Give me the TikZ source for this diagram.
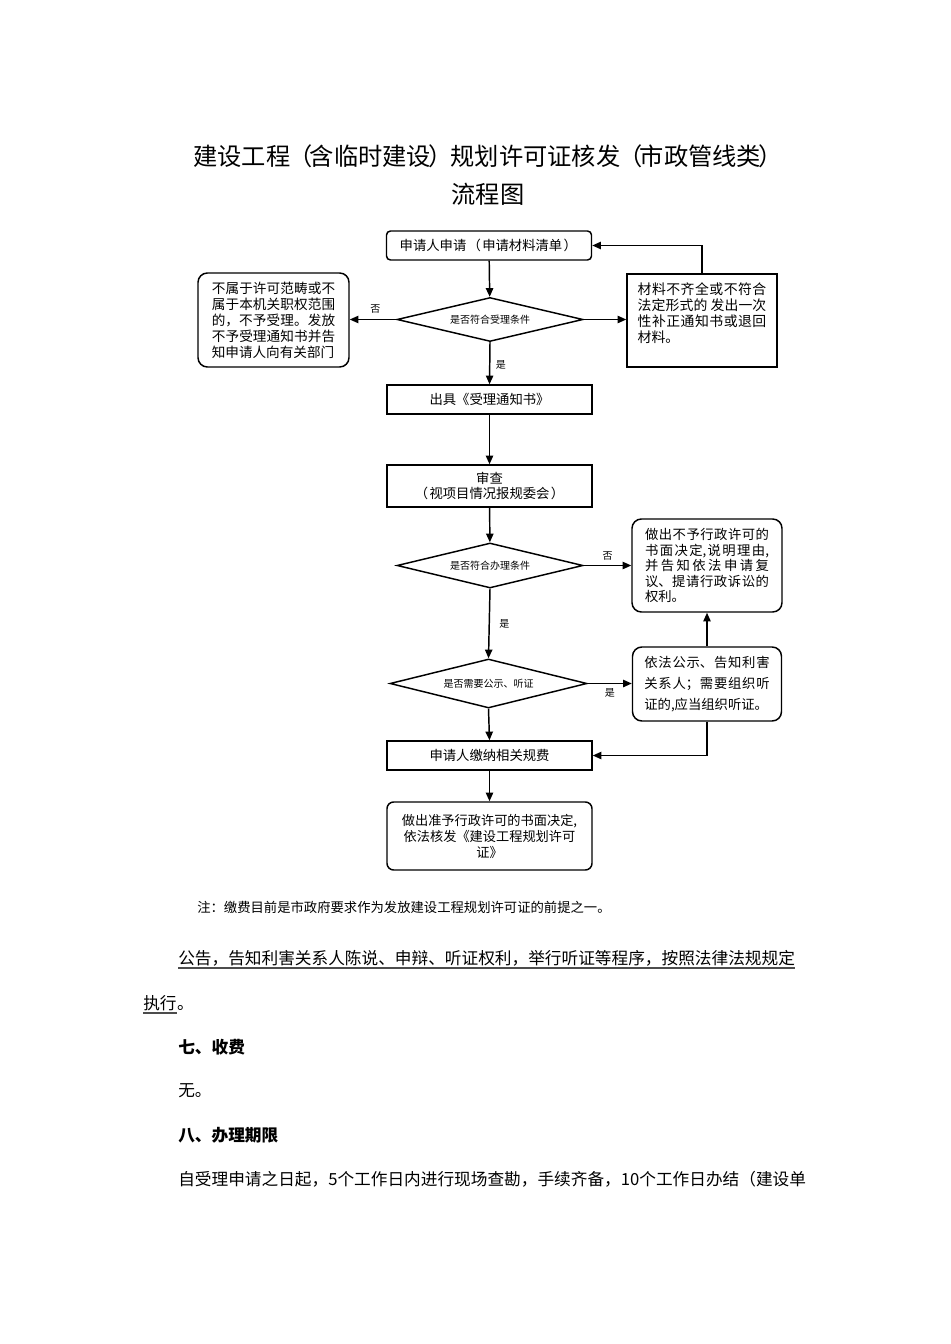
\documentclass[tikz,border=0pt]{standalone}
\usepackage{fontspec}
\setmainfont{Noto Sans CJK SC}
\usetikzlibrary{shapes.geometric,arrows.meta}
\XeTeXlinebreaklocale "zh"
\XeTeXlinebreakskip=0pt plus 5pt
\newcommand\fsz[2]{\fontsize{#1}{#2}\selectfont}
\newcommand\parL[1][1.2em]{\makebox[#1]{（}}
\newcommand\parR[1][1.2em]{\makebox[#1]{）}}

\begin{document}
\begin{tikzpicture}[x=0.75pt,y=0.75pt,yscale=-1,xscale=1,
	box/.style={draw,line width=1.1pt,minimum width=153.75pt,minimum height=21.75pt,inner sep=2pt,align=center,font=\fsz{10pt}{11.5pt}},
	decide/.style={diamond,draw,line width=1.1pt,aspect=4.2,inner sep=0pt,font=\fsz{7.5pt}{9pt}},
	side/.style={draw,line width=1.1pt,inner sep=0pt,align=justify},
	link/.style={-{Triangle[length=6.5pt,width=5.5pt]},line width=1.1pt},
	yesno/.style={font=\fsz{7.5pt}{9pt},inner sep=1pt},
	para/.style={anchor=base west,inner sep=0pt,font=\fsz{12.5pt}{15pt}}]
	\useasboundingbox (0,0) rectangle (950,1344);
	\fill[white] (0,0) rectangle (950,1344);
	% title
	\node (title) at (487,166) [anchor=base,inner sep=0pt,font=\fsz{18.2pt}{23pt}] {建设工程\parL[0.8em]含临时建设\parR[0.8em]规划许可证核发\parL[0.8em]市政管线类\parR[0.8em]};
	\node (title2) at (488,204) [anchor=base,inner sep=0pt,font=\fsz{18.2pt}{23pt}] {流程图};
	% flow chart
	\node (apply) at (489,245.5) [box,rounded corners=3pt] {申请人申请\parL 申请材料清单\parR};
	\node (accept) at (490,319.5) [decide,minimum width=139.5pt,minimum height=33pt] {是否符合受理条件};
	\node (notinscope) at (273.5,320) [side,rounded corners=7pt,minimum width=113.25pt,minimum height=70.5pt,text width=92.5pt,font=\fsz{10.2pt}{12pt}] {不属于许可范畴或不\linebreak 属于本机关职权范围\linebreak 的，不予受理。发放\linebreak 不予受理通知书并告\linebreak 知申请人向有关部门};
	\node (supplement) at (702,320.5) [side,minimum width=112.5pt,minimum height=69.75pt,text width=96.5pt,font=\fsz{10.4pt}{12pt}] {材料不齐全或不符合\linebreak 法定形式的 发出一次\linebreak 性补正通知书或退回\linebreak 材料。\par\mbox{}};
	\node (notice) at (489.5,399.5) [box] {出具《受理通知书》};
	\node (review) at (489.5,486) [box,minimum height=31.5pt] {审查\\\parL 视项目情况报规委会\parR};
	\node (handle) at (490,565.5) [decide,minimum width=139.5pt,minimum height=33.75pt] {是否符合办理条件};
	\node (refuse) at (707,565.5) [side,rounded corners=7pt,minimum width=112.5pt,minimum height=69.75pt,text width=93pt,font=\fsz{10pt}{11.6pt}] {做出不予行政许可的\linebreak 书面决定,说明理由,\linebreak 并告知依法申请复\linebreak 议、提请行政诉讼的\linebreak 权利。};
	\node (needpub) at (488.5,683.5) [decide,minimum width=147.75pt,minimum height=36.75pt] {是否需要公示、听证};
	\node (publicize) at (707,684) [side,rounded corners=7pt,minimum width=111.75pt,minimum height=55.5pt,text width=94pt,font=\fsz{10pt}{15.5pt}] {依法公示、告知利害\linebreak 关系人；需要组织听\linebreak 证的,应当组织听证。};
	\node (payfee) at (489.5,755.5) [box] {申请人缴纳相关规费};
	\node (approve) at (489.5,836) [box,rounded corners=5pt,minimum height=51pt,font=\fsz{9.9pt}{12pt}] {做出准予行政许可的书面决定,\\依法核发《建设工程规划许可\\证》};
	% connectors
	\draw[link] (apply) -- (accept);
	\draw[link] (accept.west) -- node[yesno,above,pos=0.45,yshift=3pt] {否} (accept.west -| notinscope.east);
	\draw[link] (accept.east) -- (accept.east -| supplement.west);
	\draw[link] (supplement.north) |- (apply.east);
	\draw[link] (accept.south) -- node[yesno,right,xshift=3pt,pos=0.55] {是} (notice.north);
	\draw[link] (notice) -- (review);
	\draw[link] (review) -- (handle);
	\draw[link] (handle.east) -- node[yesno,above,yshift=2pt] {否} (handle.east -| refuse.west);
	\draw[link] (handle.south) -- node[yesno,right,xshift=6pt] {是} (needpub.north);
	\draw[link] (needpub.east) -- node[yesno,below,yshift=-2pt] {是} (needpub.east -| publicize.west);
	\draw[link] (publicize.north) -- (refuse.south);
	\draw[link] (publicize.south) |- (payfee.east);
	\draw[link] (needpub.south) -- (payfee.north);
	\draw[link] (payfee) -- (approve);
	% note and body text
	\node (note) at (197,912) [anchor=base west,inner sep=0pt,font=\fsz{10pt}{12pt}] {注：缴费目前是市政府要求作为发放建设工程规划许可证的前提之一。};
	\node (pubtext) at (178,964) [para] {公告，告知利害关系人陈说、申辩、听证权利，举行听证等程序，按照法律法规规定};
	\draw[black!70,line width=1pt] ([yshift=3pt]pubtext.base west) -- ([yshift=3pt]pubtext.base east);
	\node (exec) at (143,1009) [para] {执行};
	\node (execend) at (exec.base east) [para] {。};
	\draw[black!70,line width=1pt] ([yshift=3pt]exec.base west) -- ([yshift=3pt]exec.base east);
	\node (feehead) at (178,1053) [para,font=\fsz{12.5pt}{15pt}\bfseries] {七、收费};
	\node (feetext) at (178,1096) [para] {无。};
	\node (termhead) at (178,1141) [para,font=\fsz{12.5pt}{15pt}\bfseries] {八、办理期限};
	\node (termtext) at (178,1185) [para] {自受理申请之日起，5个工作日内进行现场查勘，手续齐备，10个工作日办结（建设单};
\end{tikzpicture}
\end{document}
